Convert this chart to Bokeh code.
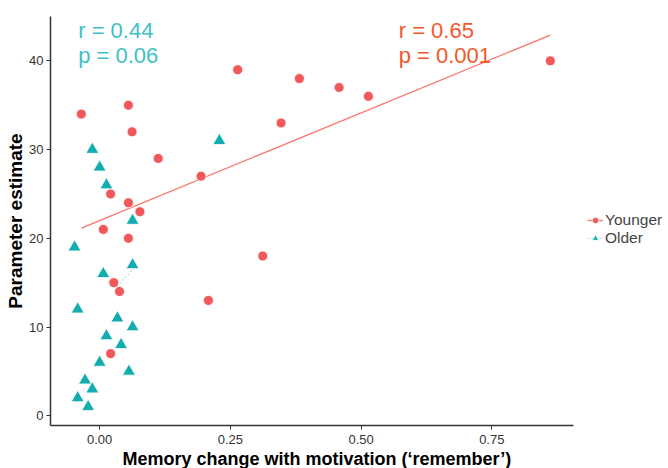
import numpy as np
from bokeh.plotting import figure
from bokeh.models import Range1d, Label, Legend, LegendItem, FixedTicker, Title
from bokeh.embed import file_html
from bokeh.resources import INLINE

# Younger group
young_x = [-0.035, 0.055, 0.062, 0.112, 0.021, 0.055, 0.077, 0.007, 0.055, 0.027, 0.038,
           0.021, 0.264, 0.382, 0.458, 0.514, 0.347, 0.194, 0.312, 0.208, 0.862]
young_y = [34, 35, 32, 29, 25, 24, 23, 21, 20, 15, 14,
           7, 39, 38, 37, 36, 33, 27, 18, 13, 40]
# Older group
old_x = [-0.014, 0.000, 0.013, 0.063, -0.048, 0.063, 0.007, -0.042, 0.034, 0.063,
         0.013, 0.041, 0.000, 0.056, -0.028, -0.014, -0.042, -0.022, 0.229]
old_y = [30, 28, 26, 22, 19, 17, 16, 12, 11, 10,
         9, 8, 6, 5, 4, 3, 2, 1, 31]
old_fit_visible_x = [0.038, 0.068]

x_ticks = [0.0, 0.25, 0.5, 0.75]
x_tick_labels = {0.0: "0.00", 0.25: "0.25", 0.5: "0.50", 0.75: "0.75"}
y_ticks = [0, 10, 20, 30, 40]
x_axis_bounds = (-0.094, 0.906)

RED = "#F0585A"
LINE_RED = "#F8766D"
CYAN = "#13ADB0"
TXT_CYAN = "#3EC1C6"
TXT_RED = "#F0582A"
FONT = "Liberation Sans"

p = figure(width=668, height=468, output_backend="svg", toolbar_location=None,
           x_range=Range1d(-0.094, 1.088), y_range=Range1d(-1.1, 45.0),
           min_border_left=50, min_border_top=16, min_border_right=0, min_border_bottom=0)
p.background_fill_color = "white"
p.border_fill_color = "white"
p.outline_line_color = None
p.grid.visible = False

# regression lines
ya = np.polyfit(young_x, young_y, 1)
fx = np.array([min(young_x), max(young_x)])
yl = p.line(fx, np.polyval(ya, fx), line_color=LINE_RED, line_width=1.3)
oa = np.polyfit(old_x, old_y, 1)
ox = np.array(old_fit_visible_x)
ol = p.line(ox, np.polyval(oa, ox), line_color="#9fe3e6", line_width=1.2, line_dash="2 2")

ys = p.scatter(young_x, young_y, marker="circle", size=10, fill_color=RED, line_color="white",
               line_width=0.8)
os_ = p.scatter(old_x, old_y, marker="triangle", size=13, fill_color=CYAN, line_color="white",
                line_width=0.8)

# axes
for ax in (p.xaxis[0], p.yaxis[0]):
    ax.axis_line_color = "#333333"
    ax.axis_line_width = 1.5
    ax.major_tick_line_color = "#333333"
    ax.major_tick_out = 4
    ax.major_tick_in = 0
    ax.minor_tick_line_color = None
    ax.major_label_text_font = FONT
    ax.major_label_text_font_size = "13px"
    ax.major_label_text_color = "#333333"
    ax.axis_label_text_font = FONT
    ax.axis_label_text_font_style = "bold"
    ax.axis_label_text_color = "black"

p.xaxis.bounds = x_axis_bounds
p.yaxis.axis_label_text_font_size = "19px"
p.xaxis.ticker = FixedTicker(ticks=x_ticks)
p.xaxis.major_label_overrides = x_tick_labels
p.yaxis.ticker = FixedTicker(ticks=y_ticks)
p.yaxis.axis_label = "Parameter estimate"
p.xaxis.major_label_standoff = 5
p.yaxis.major_label_standoff = 3
p.yaxis.axis_label_standoff = 0

# x-axis title, centred under the axis line (not the wider frame)
xt = Title(text="Memory change with motivation (\u2018remember\u2019)", align="left", offset=72,
           text_font=FONT, text_font_style="bold", text_font_size="18px", text_color="black",
           standoff=0)
p.add_layout(xt, "below")

# annotations
for txt, x, y, c in [("r = 0.44", -0.041, 43.4, TXT_CYAN), ("p = 0.06", -0.041, 40.6, TXT_CYAN),
                     ("r = 0.65", 0.572, 43.4, TXT_RED), ("p = 0.001", 0.572, 40.6, TXT_RED)]:
    p.add_layout(Label(x=x, y=y, text=txt, text_color=c, text_font=FONT,
                       text_font_size="22px", text_baseline="alphabetic"))

legend = Legend(items=[LegendItem(label="Younger", renderers=[yl, ys]),
                       LegendItem(label="Older", renderers=[ol, os_])],
                location=(537, 178), label_text_font=FONT, label_text_font_size="15.5px",
                glyph_width=16, glyph_height=16, spacing=0, padding=0, margin=0,
                label_standoff=2, border_line_color=None, background_fill_alpha=0,
                label_height=16)
p.add_layout(legend, "center")

open("out.html", "w").write(file_html(p, INLINE))
